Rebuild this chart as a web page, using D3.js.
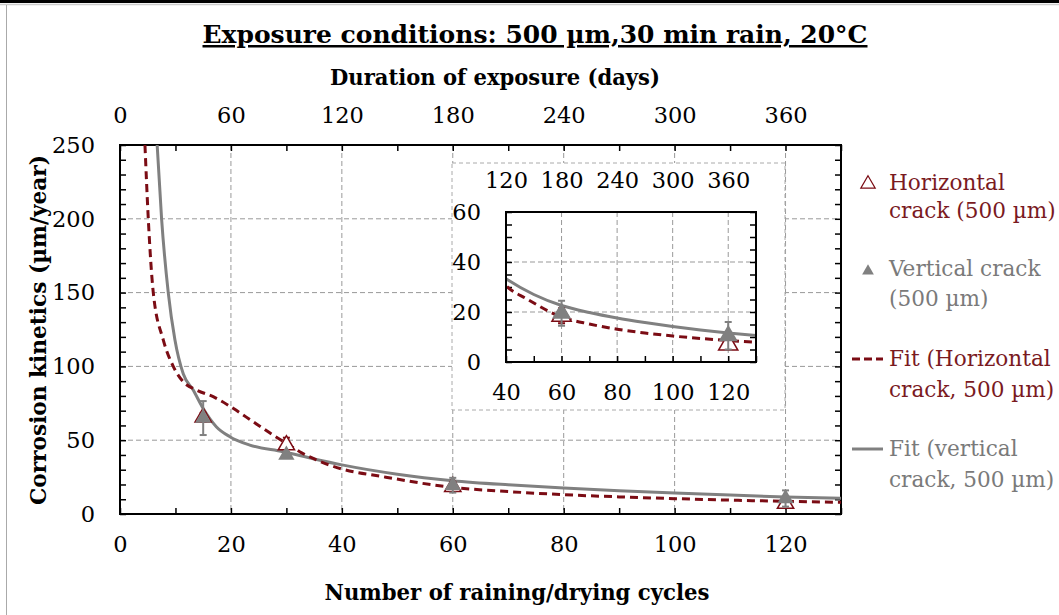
<!DOCTYPE html>
<html>
<head>
<meta charset="utf-8">
<script src="https://cdn.jsdelivr.net/npm/d3@7"></script>
<style>
  body { margin: 0; background: #fff; }
  svg text { font-family: "DejaVu Serif", serif; }
</style>
</head>
<body>
<svg id="chart" width="1059" height="615"></svg>
<script>
// measured points
var cycles = [15, 30, 60, 120];
var horizVal = [65.5, 46.7, 18.5, 7];
var horizErr = [3, 5, 3, 1.5];
var vertVal = [65, 40, 19.5, 10.5];
var vertErr = [11.5, 1.5, 5, 5.5];

// fit curves
var fitHorizX = [4.5, 5.1, 6.0, 7.8, 9.6, 11.4, 13.8, 16.8, 20.4, 24, 27.6, 30, 32.4, 35.4, 40, 47.4, 60, 70, 80, 90, 100, 110, 120, 130];
var fitHorizY = [250, 200, 150, 118, 100, 89.6, 84, 79.5, 71.6, 62.5, 53.5, 47.9, 42.2, 36.6, 30.5, 25.3, 18, 15.2, 13.1, 11.6, 10.4, 9.4, 8.6, 7.9];
var fitVertX = [6.7, 7.5, 8.7, 9.9, 11.4, 13.2, 15, 17.4, 19.8, 23.4, 29.4, 35, 40, 50, 60, 70, 80, 90, 100, 110, 120, 130];
var fitVertY = [250, 200, 150, 118, 95, 84, 71.5, 59, 52.4, 46.7, 42.2, 37.3, 33.3, 27, 22.6, 19.8, 17.6, 15.8, 14.2, 12.8, 11.6, 10.6];

var xTicks = [0, 20, 40, 60, 80, 100, 120];
var dayTicks = [0, 60, 120, 180, 240, 300, 360];
var yTicks = [0, 50, 100, 150, 200, 250];
var insetXTicks = [40, 60, 80, 100, 120];
var insetDayTicks = [120, 180, 240, 300, 360];
var insetYTicks = [0, 20, 40, 60];

var red = "#7b0c14", redText = "#7a1a1f", grey = "#808080", greyText = "#7a7a7a";

var svg = d3.select("#chart");

// outer frame bits
svg.append("rect").attr("x", 0).attr("y", 0).attr("width", 1059).attr("height", 3).attr("fill", "#000");
svg.append("line").attr("x1", 0).attr("x2", 1059).attr("y1", 4.5).attr("y2", 4.5).attr("stroke", "#ccc").attr("stroke-width", 1.5);
svg.append("line").attr("x1", 6.5).attr("x2", 6.5).attr("y1", 5).attr("y2", 615).attr("stroke", "#aaa").attr("stroke-width", 1);

var L = 120, R = 841, T = 145, B = 514;
var x = d3.scaleLinear().domain([0, 130]).range([L, R]);
var xDays = d3.scaleLinear().domain([0, 390]).range([L, R]);
var y = d3.scaleLinear().domain([0, 250]).range([B, T]);

// squeeze a bold title into the width it has in the picture
function squeeze(t, w) {
  t.attr("textLength", w).attr("lengthAdjust", "spacingAndGlyphs");
}

// title
var title = svg.append("text").attr("x", 535).attr("y", 43).attr("text-anchor", "middle")
  .attr("font-size", 25).attr("font-weight", "bold").attr("text-decoration", "underline")
  .text("Exposure conditions: 500 µm,30 min rain, 20°C");
squeeze(title, 665);

var topTitle = svg.append("text").attr("x", 495).attr("y", 85).attr("text-anchor", "middle")
  .attr("font-size", 22).attr("font-weight", "bold").text("Duration of exposure (days)");
squeeze(topTitle, 330);

var botTitle = svg.append("text").attr("x", 517).attr("y", 600).attr("text-anchor", "middle")
  .attr("font-size", 22).attr("font-weight", "bold").text("Number of raining/drying cycles");
squeeze(botTitle, 385);

var yTitle = svg.append("text").attr("transform", "translate(46,330) rotate(-90)").attr("text-anchor", "middle")
  .attr("font-size", 22).attr("font-weight", "bold").text("Corrosion kinetics (µm/year)");
squeeze(yTitle, 350);

// gridlines
var grid = svg.append("g").attr("stroke", "#999").attr("stroke-dasharray", "5,3").attr("stroke-width", 1);
grid.selectAll(".gx").data(xTicks.filter(d => d > 0)).enter().append("line")
  .attr("x1", d => x(d)).attr("x2", d => x(d)).attr("y1", T).attr("y2", B);
grid.selectAll(".gy").data(yTicks.filter(d => d > 0 && d < 250)).enter().append("line")
  .attr("x1", L).attr("x2", R).attr("y1", d => y(d)).attr("y2", d => y(d));

// axes with inward ticks
function styleAxis(g) {
  g.select(".domain").remove();
  g.selectAll(".tick line").attr("stroke", "#000").attr("stroke-width", 1.5);
  g.selectAll("text").attr("font-size", 22.5).attr("font-family", "DejaVu Serif").attr("fill", "#000");
}
svg.append("g").attr("transform", `translate(${L},0)`)
  .call(d3.axisLeft(y).tickValues(d3.range(0, 251, 10)).tickSize(-6).tickPadding(25)
    .tickFormat(d => d % 50 === 0 ? d : ""))
  .call(styleAxis);
svg.append("g").attr("transform", `translate(${R},0)`)
  .call(d3.axisRight(y).tickValues(d3.range(0, 251, 10)).tickSize(-6).tickFormat(""))
  .call(styleAxis);
svg.append("g").attr("transform", `translate(0,${B})`)
  .call(d3.axisBottom(x).tickValues(d3.range(0, 131, 10)).tickSize(-6).tickPadding(22)
    .tickFormat(d => xTicks.includes(d) ? d : ""))
  .call(styleAxis);
svg.append("g").attr("transform", `translate(0,${T})`)
  .call(d3.axisTop(xDays).tickValues(d3.range(0, 391, 30)).tickSize(-6).tickPadding(22)
    .tickFormat(d => dayTicks.includes(d) ? d : ""))
  .call(styleAxis);

svg.append("rect").attr("x", L).attr("y", T).attr("width", R - L).attr("height", B - T)
  .attr("fill", "none").attr("stroke", "#000").attr("stroke-width", 2);

svg.append("clipPath").attr("id", "clipMain").append("rect")
  .attr("x", L).attr("y", T).attr("width", R - L).attr("height", B - T);

function drawSeries(g, xs, ys, clipId, mSize) {
  var lineH = d3.line().x(d => xs(d[0])).y(d => ys(d[1])).curve(d3.curveMonotoneX);
  var pl = g.append("g").attr("clip-path", `url(#${clipId})`);
  pl.append("path").datum(d3.zip(fitVertX, fitVertY)).attr("d", lineH)
    .attr("fill", "none").attr("stroke", grey).attr("stroke-width", 3);
  pl.append("path").datum(d3.zip(fitHorizX, fitHorizY)).attr("d", lineH)
    .attr("fill", "none").attr("stroke", red).attr("stroke-width", 3).attr("stroke-dasharray", "8,5");

  var hData = cycles.map((c, i) => ({c: c, v: horizVal[i], e: horizErr[i]}));
  var vData = cycles.map((c, i) => ({c: c, v: vertVal[i], e: vertErr[i]}));
  var sym = d3.symbol().type(d3.symbolTriangle).size(mSize);
  function bars(data, col) {
    var eb = pl.append("g").attr("stroke", col).attr("stroke-width", 2);
    eb.selectAll(".v").data(data).enter().append("line")
      .attr("x1", d => xs(d.c)).attr("x2", d => xs(d.c)).attr("y1", d => ys(d.v - d.e)).attr("y2", d => ys(d.v + d.e));
    eb.selectAll(".t").data(data).enter().append("line")
      .attr("x1", d => xs(d.c) - 3.5).attr("x2", d => xs(d.c) + 3.5).attr("y1", d => ys(d.v + d.e)).attr("y2", d => ys(d.v + d.e));
    eb.selectAll(".b").data(data).enter().append("line")
      .attr("x1", d => xs(d.c) - 3.5).attr("x2", d => xs(d.c) + 3.5).attr("y1", d => ys(d.v - d.e)).attr("y2", d => ys(d.v - d.e));
  }
  bars(hData, red);
  pl.selectAll(".hm").data(hData).enter().append("path")
    .attr("transform", d => `translate(${xs(d.c)},${ys(d.v)})`).attr("d", sym)
    .attr("fill", "#fff").attr("stroke", red).attr("stroke-width", 1.5);
  bars(vData, grey);
  pl.selectAll(".vm").data(vData).enter().append("path")
    .attr("transform", d => `translate(${xs(d.c)},${ys(d.v)})`).attr("d", sym)
    .attr("fill", grey);
}
drawSeries(svg.append("g"), x, y, "clipMain", 115);

// inset
svg.append("rect").attr("x", 452).attr("y", 163).attr("width", 333).attr("height", 247)
  .attr("fill", "#fff").attr("stroke", "#aaa").attr("stroke-dasharray", "4,3").attr("stroke-width", 1);
var iL = 506, iR = 756, iT = 212, iB = 362;
var ix = d3.scaleLinear().domain([40, 130]).range([iL, iR]);
var ixDays = d3.scaleLinear().domain([120, 390]).range([iL, iR]);
var iy = d3.scaleLinear().domain([0, 60]).range([iB, iT]);
var inset = svg.append("g");
var igrid = inset.append("g").attr("stroke", "#999").attr("stroke-dasharray", "5,3").attr("stroke-width", 1);
igrid.selectAll(".gx").data(insetXTicks.filter(d => d > 40)).enter().append("line")
  .attr("x1", d => ix(d)).attr("x2", d => ix(d)).attr("y1", iT).attr("y2", iB);
igrid.selectAll(".gy").data(insetYTicks.filter(d => d > 0 && d < 60)).enter().append("line")
  .attr("x1", iL).attr("x2", iR).attr("y1", d => iy(d)).attr("y2", d => iy(d));
inset.append("g").attr("transform", `translate(${iL},0)`)
  .call(d3.axisLeft(iy).tickValues(d3.range(0, 61, 5)).tickSize(-6).tickPadding(25)
    .tickFormat(d => insetYTicks.includes(d) ? d : ""))
  .call(styleAxis);
inset.append("g").attr("transform", `translate(${iR},0)`)
  .call(d3.axisRight(iy).tickValues(d3.range(0, 61, 5)).tickSize(-6).tickFormat(""))
  .call(styleAxis);
inset.append("g").attr("transform", `translate(0,${iB})`)
  .call(d3.axisBottom(ix).tickValues(d3.range(40, 131, 10)).tickSize(-6).tickPadding(22)
    .tickFormat(d => insetXTicks.includes(d) ? d : ""))
  .call(styleAxis);
inset.append("g").attr("transform", `translate(0,${iT})`)
  .call(d3.axisTop(ixDays).tickValues(insetDayTicks).tickSize(0).tickPadding(24))
  .call(styleAxis);
inset.append("clipPath").attr("id", "clipInset").append("rect")
  .attr("x", iL).attr("y", iT).attr("width", iR - iL).attr("height", iB - iT);
drawSeries(inset.append("g"), ix, iy, "clipInset", 160);
inset.append("rect").attr("x", iL).attr("y", iT).attr("width", iR - iL).attr("height", iB - iT)
  .attr("fill", "none").attr("stroke", "#000").attr("stroke-width", 2);

// legend
var leg = svg.append("g").attr("font-size", 21.6);
leg.append("path").attr("transform", "translate(868,184)").attr("d", d3.symbol().type(d3.symbolTriangle).size(90))
  .attr("fill", "#fff").attr("stroke", red).attr("stroke-width", 1.2);
leg.append("path").attr("transform", "translate(868,271)").attr("d", d3.symbol().type(d3.symbolTriangle).size(60))
  .attr("fill", grey);
leg.append("line").attr("x1", 852).attr("x2", 883).attr("y1", 359).attr("y2", 359)
  .attr("stroke", red).attr("stroke-width", 3).attr("stroke-dasharray", "8,4");
leg.append("line").attr("x1", 852).attr("x2", 883).attr("y1", 449).attr("y2", 449)
  .attr("stroke", grey).attr("stroke-width", 3);
var legText = [
  ["Horizontal", 190, redText], ["crack (500 µm)", 218, redText],
  ["Vertical crack", 276, greyText], ["(500 µm)", 306, greyText],
  ["Fit (Horizontal", 366, redText], ["crack, 500 µm)", 397, redText],
  ["Fit (vertical", 456, greyText], ["crack, 500 µm)", 487, greyText]
];
leg.selectAll("text").data(legText).enter().append("text")
  .attr("x", 889).attr("y", d => d[1]).attr("fill", d => d[2]).text(d => d[0]);
</script>
</body>
</html>
